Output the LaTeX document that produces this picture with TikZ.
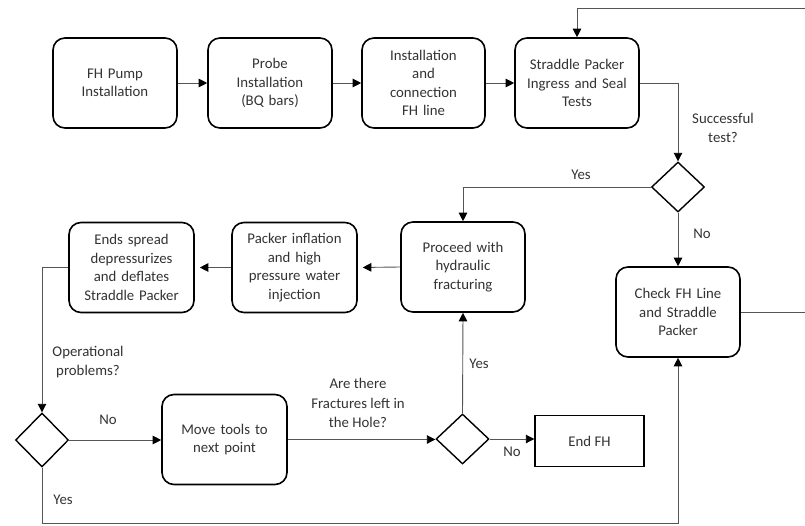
\documentclass[tikz,border=0pt]{standalone}
\usepackage{fontspec}
\setmainfont{Carlito}
\usetikzlibrary{shapes.geometric,arrows.meta}
\definecolor{txt}{HTML}{333333}
\definecolor{ln}{HTML}{555555}
\tikzset{
  stepbox/.style={draw=black,line width=1.6pt,rounded corners=12pt,minimum width=124pt,minimum height=90pt,inner sep=0pt,text width=118pt,align=center,text=txt,font=\fontsize{14.8}{18.5}\selectfont},
  endbox/.style={draw=black,line width=1.4pt,minimum width=109pt,minimum height=51pt,inner sep=0pt,align=center,text=txt,font=\fontsize{14.8}{18.5}\selectfont},
  dec/.style={draw=black,line width=1.4pt,shape=diamond,minimum width=53pt,minimum height=50pt,inner sep=0pt},
  conn/.style={draw=ln,line width=0.9pt,-{Triangle[length=8.5pt,width=8.5pt,fill=black,color=black]}},
  lbl/.style={text=txt,align=center,inner sep=0pt,font=\fontsize{14.8}{19.5}\selectfont}
}
\begin{document}
\begin{tikzpicture}[x=1pt,y=-1pt]
\useasboundingbox (0,0) rectangle (805,525);
\fill[white] (0,0) rectangle (805,525);
\node[stepbox] (b1) at (115,83) {FH Pump\\Installation};
\node[stepbox] (b2) at (270,83) {Probe\\Installation\\(BQ bars)};
\node[stepbox,minimum width=123pt] (b3) at (423.5,83) {Installation\\and\\connection\\FH line};
\node[stepbox] (b4) at (577,83) {Straddle Packer\\Ingress and Seal\\Tests};
\node[dec] (d1) at (678,187) {};
\node[stepbox] (proc) at (463,267) {Proceed with\\hydraulic\\fracturing};
\node[stepbox,minimum width=125pt] (pack) at (294.5,267.5) {Packer inflation\\and high\\pressure water\\injection};
\node[stepbox,minimum width=125pt] (ends) at (131.5,267.5) {Ends spread\\depressurizes\\and deflates\\Straddle Packer};
\node[stepbox] (check) at (678,312) {Check FH Line\\and Straddle\\Packer};
\node[dec,minimum width=53pt,minimum height=54pt] (d2) at (42,440) {};
\node[stepbox,minimum width=125pt] (move) at (224.5,439.5) {Move tools to\\next point};
\node[dec] (d3) at (462.5,439) {};
\node[endbox] (endfh) at (589.5,441) {End FH};
\coordinate (rt) at (815,312);
\coordinate (rtop) at (815,8);
\coordinate (bot) at (42,523.5);
% labels
\node[lbl] (l1) at (723,128) {Successful\\test?};
\node[lbl] (l2) at (581,175) {Yes};
\node[lbl] (l3) at (702,234) {No};
\node[lbl] (l4) at (88,362) {Operational\\problems?};
\node[lbl] (l5) at (108,420) {No};
\node[lbl] (l6) at (358,403) {Are there\\Fractures left in\\the Hole?};
\node[lbl] (l7) at (479,364) {Yes};
\node[lbl] (l8) at (512,452) {No};
\node[lbl] (l9) at (63,500) {Yes};
% connectors
\draw[conn] (b1.east) -- (b2.west);
\draw[conn] (b2.east) -- (b3.west);
\draw[conn] (b3.east) -- (b4.west);
\draw[conn] (b4.east) -| (d1.north);
\draw[conn] (d1.west) -| (proc.north);
\draw[conn] (d1.south) -- (check.north);
\draw[conn] (check.east) -- (rt) -- (rtop) -| (b4.north);
\draw[conn,shorten >=5pt] (proc.west) -- (pack.east);
\draw[conn,shorten >=5pt] (pack.west) -- (ends.east);
\draw[conn] (ends.west) -| (d2.north);
\draw[conn] (d2.east) -- (d2.east -| move.west);
\draw[conn] (move.east) -- (move.east -| d3.west);
\draw[conn] (d3.north) -- (proc.south);
\draw[conn] (d3.east) -- (d3.east -| endfh.west);
\draw[conn] (d2.south) -- (bot) -| (check.south);
\end{tikzpicture}
\end{document}
